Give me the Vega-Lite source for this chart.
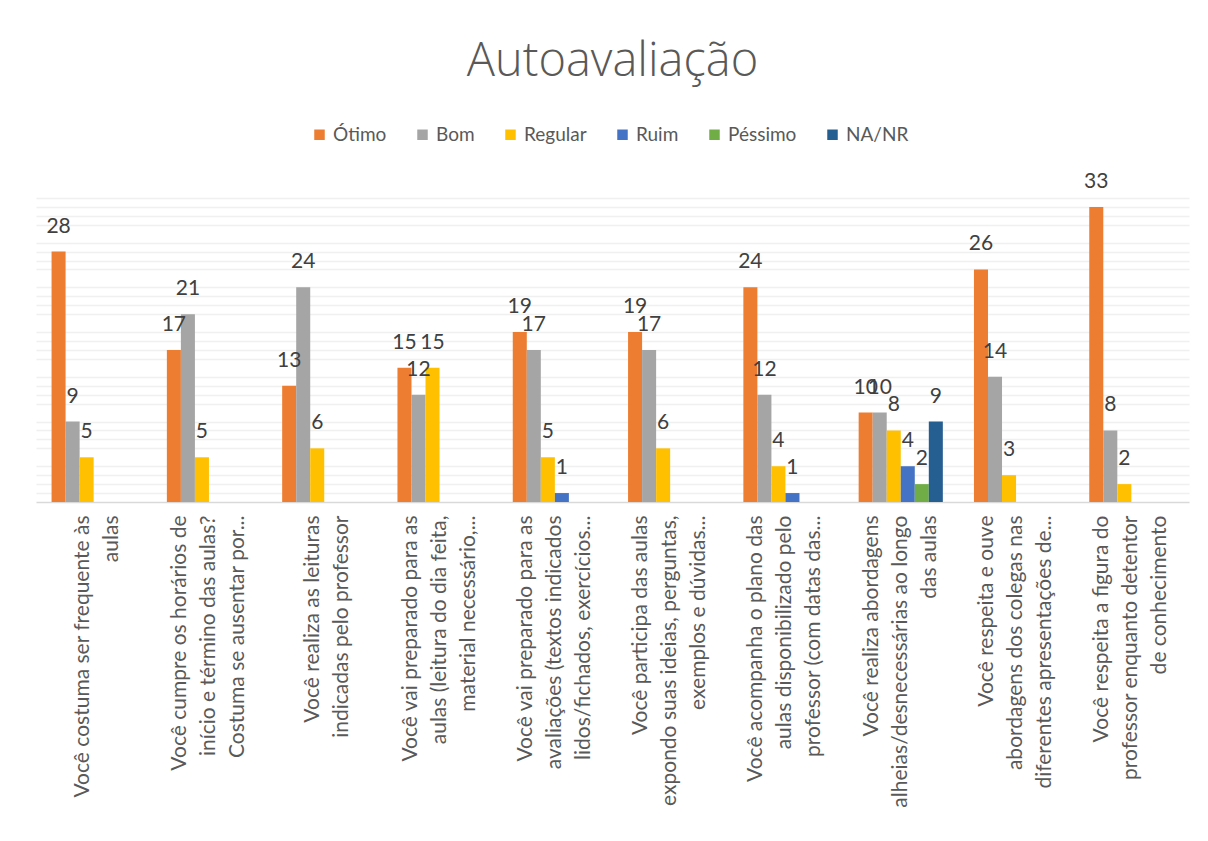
{
  "$schema": "https://vega.github.io/schema/vega-lite/v6.json",
  "width": 1153,
  "height": 313,
  "autosize": {"type": "none"},
  "padding": {"left": 36, "top": 189, "right": 19, "bottom": 339},
  "background": "white",
  "title": {"text": "Autoavaliação", "fontSize": 47, "font": "Open Sans", "fontWeight": 300, "color": "#595959", "anchor": "middle", "baseline": "alphabetic", "offset": 2},
  "config": {"font": "Lato", "view": {"stroke": null}},
  "datasets": {
    "d": [
      {"item": "Você costuma ser frequente às|aulas", "nivel": "Ótimo", "n": 28},
      {"item": "Você costuma ser frequente às|aulas", "nivel": "Bom", "n": 9},
      {"item": "Você costuma ser frequente às|aulas", "nivel": "Regular", "n": 5},
      {"item": "Você cumpre os horários de|início e término das aulas?|Costuma se ausentar por...", "nivel": "Ótimo", "n": 17},
      {"item": "Você cumpre os horários de|início e término das aulas?|Costuma se ausentar por...", "nivel": "Bom", "n": 21},
      {"item": "Você cumpre os horários de|início e término das aulas?|Costuma se ausentar por...", "nivel": "Regular", "n": 5},
      {"item": "Você realiza as leituras|indicadas pelo professor", "nivel": "Ótimo", "n": 13},
      {"item": "Você realiza as leituras|indicadas pelo professor", "nivel": "Bom", "n": 24},
      {"item": "Você realiza as leituras|indicadas pelo professor", "nivel": "Regular", "n": 6},
      {"item": "Você vai preparado para as|aulas (leitura do dia feita,|material necessário,...", "nivel": "Ótimo", "n": 15},
      {"item": "Você vai preparado para as|aulas (leitura do dia feita,|material necessário,...", "nivel": "Bom", "n": 12},
      {"item": "Você vai preparado para as|aulas (leitura do dia feita,|material necessário,...", "nivel": "Regular", "n": 15},
      {"item": "Você vai preparado para as|avaliações (textos indicados|lidos/fichados, exercícios...", "nivel": "Ótimo", "n": 19},
      {"item": "Você vai preparado para as|avaliações (textos indicados|lidos/fichados, exercícios...", "nivel": "Bom", "n": 17},
      {"item": "Você vai preparado para as|avaliações (textos indicados|lidos/fichados, exercícios...", "nivel": "Regular", "n": 5},
      {"item": "Você vai preparado para as|avaliações (textos indicados|lidos/fichados, exercícios...", "nivel": "Ruim", "n": 1},
      {"item": "Você participa das aulas|expondo suas ideias, perguntas,|exemplos e dúvidas...", "nivel": "Ótimo", "n": 19},
      {"item": "Você participa das aulas|expondo suas ideias, perguntas,|exemplos e dúvidas...", "nivel": "Bom", "n": 17},
      {"item": "Você participa das aulas|expondo suas ideias, perguntas,|exemplos e dúvidas...", "nivel": "Regular", "n": 6},
      {"item": "Você acompanha o plano das|aulas disponibilizado pelo|professor (com datas das...", "nivel": "Ótimo", "n": 24},
      {"item": "Você acompanha o plano das|aulas disponibilizado pelo|professor (com datas das...", "nivel": "Bom", "n": 12},
      {"item": "Você acompanha o plano das|aulas disponibilizado pelo|professor (com datas das...", "nivel": "Regular", "n": 4},
      {"item": "Você acompanha o plano das|aulas disponibilizado pelo|professor (com datas das...", "nivel": "Ruim", "n": 1},
      {"item": "Você realiza abordagens|alheias/desnecessárias ao longo|das aulas", "nivel": "Ótimo", "n": 10},
      {"item": "Você realiza abordagens|alheias/desnecessárias ao longo|das aulas", "nivel": "Bom", "n": 10},
      {"item": "Você realiza abordagens|alheias/desnecessárias ao longo|das aulas", "nivel": "Regular", "n": 8},
      {"item": "Você realiza abordagens|alheias/desnecessárias ao longo|das aulas", "nivel": "Ruim", "n": 4},
      {"item": "Você realiza abordagens|alheias/desnecessárias ao longo|das aulas", "nivel": "Péssimo", "n": 2},
      {"item": "Você realiza abordagens|alheias/desnecessárias ao longo|das aulas", "nivel": "NA/NR", "n": 9},
      {"item": "Você respeita e ouve|abordagens dos colegas nas|diferentes apresentações de...", "nivel": "Ótimo", "n": 26},
      {"item": "Você respeita e ouve|abordagens dos colegas nas|diferentes apresentações de...", "nivel": "Bom", "n": 14},
      {"item": "Você respeita e ouve|abordagens dos colegas nas|diferentes apresentações de...", "nivel": "Regular", "n": 3},
      {"item": "Você respeita a figura do|professor enquanto detentor|de conhecimento", "nivel": "Ótimo", "n": 33},
      {"item": "Você respeita a figura do|professor enquanto detentor|de conhecimento", "nivel": "Bom", "n": 8},
      {"item": "Você respeita a figura do|professor enquanto detentor|de conhecimento", "nivel": "Regular", "n": 2}
    ]
  },
  "data": {"name": "d"},
  "encoding": {
    "x": {
      "field": "item", "type": "nominal", "sort": null,
      "scale": {"paddingInner": 0.27, "paddingOuter": 0.135},
      "axis": {
        "title": null, "labelAngle": -90, "labelAlign": "right", "labelBaseline": "middle",
        "labelPadding": 13, "labelFontSize": 21, "labelLineHeight": 29, "labelColor": "#595959",
        "labelLimit": 0, "labelOverlap": false, "ticks": false, "domainColor": "#d9d9d9", "domainWidth": 1.5,
        "labelExpr": "split(datum.label, '|')",
        "labelOffset": {"condition": {"test": "length(split(datum.label, '|')) == 3", "value": -29}, "value": -11}
      }
    },
    "xOffset": {
      "field": "nivel", "type": "nominal",
      "scale": {"domain": ["Ótimo", "Bom", "Regular", "Ruim", "Péssimo", "NA/NR"], "paddingInner": 0, "paddingOuter": 0}
    }
  },
  "layer": [
    {
      "mark": {"type": "bar"},
      "encoding": {
        "y": {
          "field": "n", "type": "quantitative", "scale": {"domain": [0, 35], "nice": false},
          "axis": {"title": null, "labels": false, "ticks": false, "domain": false, "values": [1,2,3,4,6,7,8,9,11,12,13,14,16,17,18,19,21,22,23,24,26,27,28,29,31,32,33,34], "gridColor": "#f0f0f0", "gridWidth": 1.5}
        },
        "color": {
          "field": "nivel", "type": "nominal",
          "scale": {"domain": ["Ótimo", "Bom", "Regular", "Ruim", "Péssimo", "NA/NR"], "range": ["#ED7D31", "#A5A5A5", "#FFC000", "#4472C4", "#70AD47", "#255E91"]},
          "legend": {
            "orient": "none", "legendX": 274, "legendY": -64, "direction": "horizontal", "title": null, "symbolType": "square", "symbolSize": 110,
            "symbolStrokeWidth": 0, "labelFontSize": 19, "labelColor": "#595959", "columnPadding": 26, "labelOffset": 4
          }
        }
      }
    },
    {
      "mark": {"type": "text", "baseline": "alphabetic", "dy": -19, "fontSize": 21, "color": "#404040"},
      "encoding": {
        "y": {
          "field": "n", "type": "quantitative", "scale": {"domain": [0, 35], "nice": false},
          "axis": {"title": null, "labels": false, "ticks": false, "domain": false, "values": [5,10,15,20,25,30,35], "gridColor": "#d9d9d9", "gridWidth": 1.5}
        },
        "text": {"field": "n", "type": "quantitative"}
      }
    }
  ],
  "resolve": {"axis": {"y": "independent"}}
}
